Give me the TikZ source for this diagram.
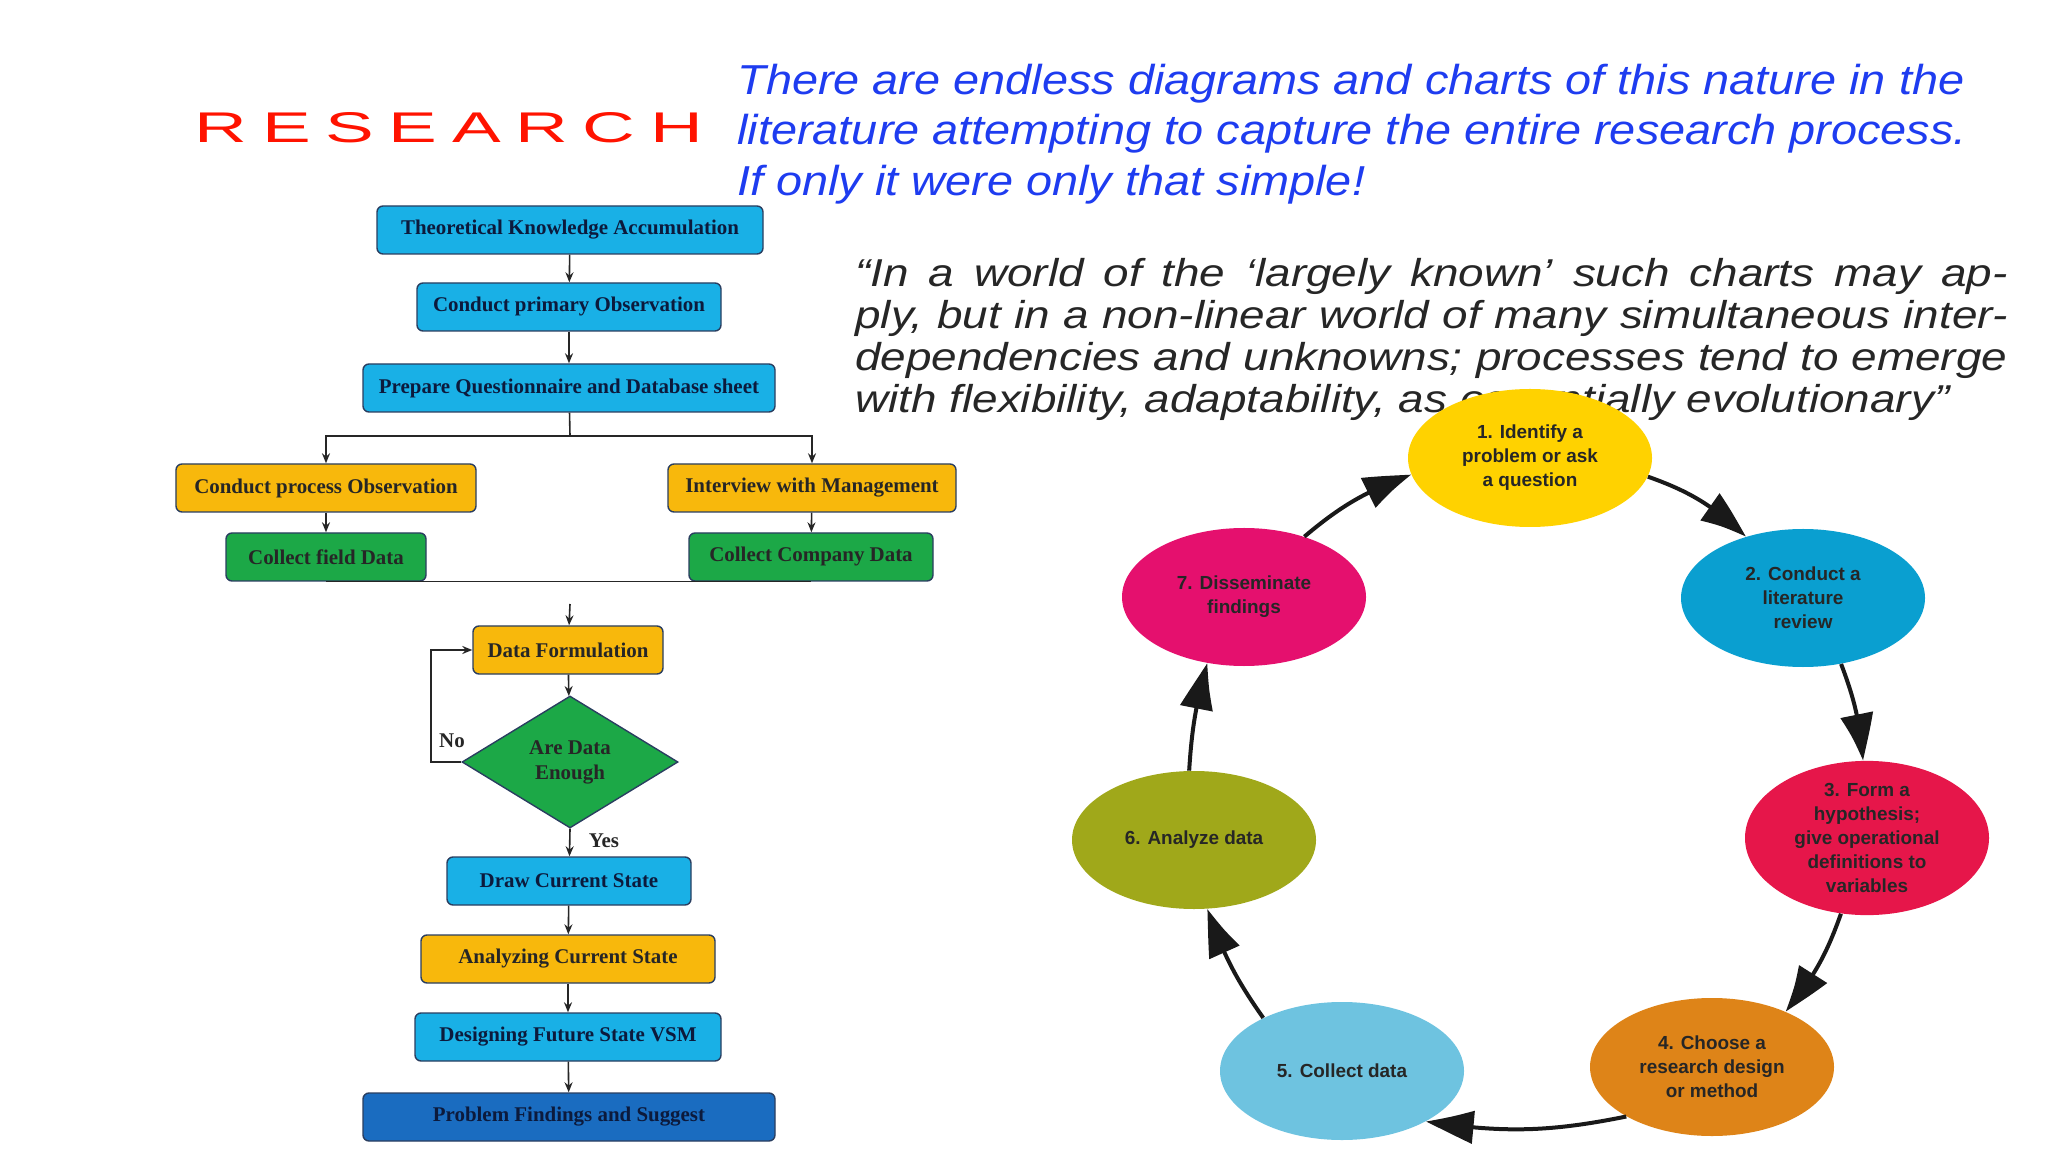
\documentclass[tikz,border=0pt]{standalone}
\usepackage{fontspec}
\setmainfont{Liberation Serif}
\setsansfont{Liberation Sans}
\usetikzlibrary{shapes.geometric,arrows.meta,bending}
\definecolor{lblue}{HTML}{19B0E6}
\definecolor{dblue}{HTML}{1A6CC0}
\definecolor{forange}{HTML}{F8B80C}
\definecolor{fgreen}{HTML}{1CA847}
\definecolor{navy}{HTML}{0C1A3C}
\definecolor{edge}{HTML}{2A3E60}
\definecolor{qblue}{HTML}{1E3CF0}
\definecolor{cy1}{HTML}{FFD200}
\definecolor{cy2}{HTML}{0A9FD0}
\definecolor{cy3}{HTML}{E6164A}
\definecolor{cy4}{HTML}{DE8418}
\definecolor{cy5}{HTML}{6EC3E0}
\definecolor{cy6}{HTML}{A0A81A}
\definecolor{cy7}{HTML}{E5106E}
\tikzset{
  fbox/.style={draw=edge, line width=0.7bp, rounded corners=3bp, inner sep=0pt,
    minimum height=24bp, font=\fontsize{10.5}{12}\selectfont\bfseries, text=navy},
  fb/.style={fbox, fill=lblue},
  fo/.style={fbox, fill=forange, text=black!85},
  fg/.style={fbox, fill=fgreen, text=black!85},
  farr/.style={-{Stealth[length=5bp,width=4bp]}, line width=0.8bp, black!85},
  fline/.style={line width=0.8bp, black!85},
  cyc/.style={ellipse, inner sep=0pt, minimum width=122bp, minimum height=69bp, align=center,
    font=\sffamily\bfseries\fontsize{9.5}{12}\selectfont, text=black!85},
  carr/.style={-{Triangle[length=25bp,width=16bp,bend]}, line width=2bp, black!90},
  bluet/.style={anchor=base west, inner sep=0pt, text=qblue,
    font=\sffamily\itshape\fontsize{21}{25}\selectfont\addfontfeature{FakeStretch=1.12}},
}
\begin{document}
\begin{tikzpicture}[x=0.5bp,y=-0.5bp]
\useasboundingbox (0,0) rectangle (2048,1152);
% title
\node[inner sep=0pt, text=red!85!orange, font=\sffamily] (rs) at (449,128)
  {\resizebox{254bp}{15bp}{\addfontfeature{LetterSpace=20}RESEARCH}};
\node[bluet] (t1) at (737,95) {There are endless diagrams and charts of this nature in the};
\node[bluet] (t2) at (737,145) {literature attempting to capture the entire research process.};
\node[bluet] (t3) at (737,196) {If only it were only that simple!};
\node[anchor=north west, inner sep=0pt, text width=576bp, align=justify, text=black!85,
  font=\sffamily\itshape\fontsize{19.5}{21}\selectfont\addfontfeature{FakeStretch=1.18}] (q) at (855,258)
  {“In a world of the ‘largely known’ such charts may apply, but in a non-linear world of many simultaneous interdependencies and unknowns; processes tend to emerge with flexibility, adaptability, as essentially evolutionary”};
% flowchart
\node[fb, minimum width=193bp] (a) at (570,230) {Theoretical Knowledge Accumulation};
\node[fb, minimum width=152bp] (b) at (569,307) {Conduct primary Observation};
\node[fb, minimum width=206bp] (c) at (569,388) {Prepare Questionnaire and Database sheet};
\node[fo, minimum width=150bp] (d) at (326,488) {Conduct process Observation};
\node[fo, minimum width=144bp] (e) at (812,488) {Interview with Management};
\node[fg, minimum width=100bp] (f) at (326,557) {Collect field Data};
\node[fg, minimum width=122bp] (g) at (811,557) {Collect Company Data};
\node[fo, minimum width=95bp] (h) at (568,650) {Data Formulation};
\node[diamond, draw=edge, line width=0.7bp, fill=fgreen, aspect=1.63, minimum width=108bp, minimum height=66bp, inner sep=0pt,
  align=center, font=\fontsize{10.5}{12.5}\selectfont\bfseries, text=black!85] (k) at (570,762) {Are Data\\Enough};
\node[fb, minimum width=122bp] (l) at (569,881) {Draw Current State};
\node[fo, minimum width=147bp] (m) at (568,959) {Analyzing Current State};
\node[fb, minimum width=153bp] (n) at (568,1037) {Designing Future State VSM};
\node[fbox, fill=dblue, minimum width=206bp] (o) at (569,1117) {Problem Findings and Suggest};
\coordinate (sp) at (570,436);
\coordinate (lp) at (431,762);
\coordinate (mt) at (570,604);
\draw[farr] (a) -- (b);
\draw[farr] (b) -- (c);
\draw[fline] (c) -- (sp);
\draw[farr] (sp) -| (d);
\draw[farr] (sp) -| (e);
\draw[farr] (d) -- (f);
\draw[farr] (e) -- (g);
\draw[fline] (f.south) -- (g.south);
\draw[farr] (mt) -- (h);
\draw[farr] (h) -- (k);
\draw[farr] (k.west) -- (lp) |- (h.west);
\node[font=\fontsize{10.5}{12}\selectfont\bfseries, text=black!85, inner sep=0pt] (no) at (452,741) {No};
\draw[farr] (k.south) -- (l);
\node[font=\fontsize{10.5}{12}\selectfont\bfseries, text=black!85, inner sep=0pt] (yes) at (604,841) {Yes};
\draw[farr] (l) -- (m);
\draw[farr] (m) -- (n);
\draw[farr] (n) -- (o);
% cycle
\node[cyc, fill=cy1] (e1) at (1530,458) {1. Identify a\\problem or ask\\a question};
\node[cyc, fill=cy2] (e2) at (1803,598) {2. Conduct a\\literature\\review};
\node[cyc, fill=cy3] (e3) at (1867,838) {3. Form a\\hypothesis;\\give operational\\definitions to\\variables};
\node[cyc, fill=cy4] (e4) at (1712,1067) {4. Choose a\\research design\\or method};
\node[cyc, fill=cy5] (e5) at (1342,1071) {5. Collect data};
\node[cyc, fill=cy6] (e6) at (1194,840) {6. Analyze data};
\node[cyc, fill=cy7] (e7) at (1244,597) {7. Disseminate\\findings};
\draw[carr] (e1.-9) to[bend left=12] (e2.133);
\draw[carr] (e2.-60) to[bend left=8] (e3.93);
\draw[carr] (e3.-109) to[bend left=10] (e4.37);
\draw[carr] (e4.-150) to[bend left=10] (e5.-31);
\draw[carr] (e5.146) to[bend left=8] (e6.-79);
\draw[carr] (e6.94) to[bend left=6] (e7.-119);
\draw[carr] (e7.45) to[bend left=10] (e1.-172);
\end{tikzpicture}
\end{document}
